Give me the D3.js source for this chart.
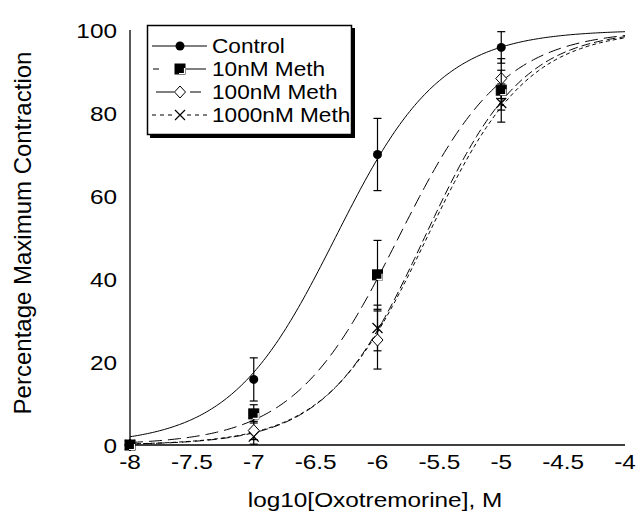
<!DOCTYPE html>
<html>
<head>
<meta charset="utf-8">
<script src="https://cdn.jsdelivr.net/npm/d3@7"></script>
<style>
body{margin:0;background:#fff;}
text{font-family:"Liberation Sans",Arial,sans-serif;fill:#000;}
</style>
</head>
<body>
<div id="chart"></div>
<script>
// data
let doses = [-8, -7, -6, -5];
let seriesNames = ["Control", "10nM Meth", "100nM Meth", "1000nM Meth"];
let meanControl = [0, 15.8, 70, 95.8];
let semControl = [0, 5.2, 8.7, 3.8];
let mean10 = [0, 7.5, 41, 85.5];
let sem10 = [0, 2.2, 8.3, 4.8];
let mean100 = [0, 3.5, 25.3, 88.3];
let sem100 = [0, 2.2, 7, 4.8];
let mean1000 = [0, 2, 28.2, 82.4];
let sem1000 = [0, 1.8, 5.5, 4.6];
// fitted logistic curves: logEC50 and hill slope
let logEC50 = [-6.34, -5.83, -5.62, -5.6];
let hill = [1.02, 1.02, 1.1, 1.07];
let xTicks = [-8, -7.5, -7, -6.5, -6, -5.5, -5, -4.5, -4];
let yTicks = [0, 20, 40, 60, 80, 100];

let width = 636, height = 516;
let padLeft = 130, padRight = 625, padTop = 30, padBottom = 445;
let stretch = 1.16; // text in the picture is a bit wider than the font

let means = [meanControl, mean10, mean100, mean1000];
let sems = [semControl, sem10, sem100, sem1000];
let dashes = [null, "13,6", "9,4", "4,3"];
let markers = ["circle", "square", "diamond", "cross"];

let svg = d3.select("#chart").append("svg")
  .attr("width", width).attr("height", height);

let x = d3.scaleLinear().domain([-8, -4]).range([padLeft, padRight]);
let y = d3.scaleLinear().domain([0, 100]).range([padBottom, padTop]);

function label(g, str, tx, ty, size, anchor){
  return g.append("text")
    .attr("transform", "translate(" + tx + "," + ty + ") scale(" + stretch + ",1)")
    .attr("font-size", size).attr("text-anchor", anchor || "start")
    .text(str);
}

// axes
svg.append("line").attr("x1", padLeft).attr("x2", padLeft).attr("y1", padTop).attr("y2", padBottom)
  .attr("stroke", "#000").attr("stroke-width", 1.3);
svg.append("line").attr("x1", padLeft).attr("x2", padRight).attr("y1", padBottom).attr("y2", padBottom)
  .attr("stroke", "#000").attr("stroke-width", 1.3);

xTicks.forEach(d => label(svg, d, x(d), padBottom + 24, 21, "middle"));
yTicks.forEach(d => label(svg, d, padLeft - 13, y(d) + 7.5, 21, "end"));

label(svg, "log10[Oxotremorine], M", 375, 507, 21, "middle");
svg.append("text").attr("transform", "translate(31,233) rotate(-90)")
  .attr("text-anchor", "middle").attr("font-size", 24)
  .text("Percentage Maximum Contraction");

// curves
let line = d3.line().x(d => x(d[0])).y(d => y(d[1]));
let xs = d3.range(-8, -3.999, 0.02);
seriesNames.forEach(function(name, i){
  let pts = xs.map(v => [v, 100 / (1 + Math.pow(10, (logEC50[i] - v) * hill[i]))]);
  svg.append("path").attr("d", line(pts))
    .attr("fill", "none").attr("stroke", "#000").attr("stroke-width", 1)
    .attr("stroke-dasharray", dashes[i]);
});

function drawMarker(g, type, cx, cy){
  if(type === "circle"){
    g.append("circle").attr("cx", cx).attr("cy", cy).attr("r", 4.5).attr("fill", "#000");
  } else if(type === "square"){
    g.append("rect").attr("x", cx - 5).attr("y", cy - 5).attr("width", 10).attr("height", 10)
      .attr("fill", "#000").attr("stroke", "#000");
    g.append("path").attr("d", "M" + (cx + 4.5) + "," + (cy - 1) + "V" + (cy + 4.5) + "H" + (cx - 1))
      .attr("fill", "none").attr("stroke", "#fff").attr("stroke-width", 1.2);
  } else if(type === "diamond"){
    g.append("path").attr("d", "M" + cx + "," + (cy - 6) + "L" + (cx + 5.5) + "," + cy + "L" + cx + "," + (cy + 6) + "L" + (cx - 5.5) + "," + cy + "Z")
      .attr("fill", "#fff").attr("stroke", "#000").attr("stroke-width", 1);
  } else {
    g.append("path").attr("d", "M" + (cx - 5) + "," + (cy - 5) + "L" + (cx + 5) + "," + (cy + 5) + "M" + (cx + 5) + "," + (cy - 5) + "L" + (cx - 5) + "," + (cy + 5))
      .attr("stroke", "#000").attr("stroke-width", 1.2);
  }
}

// error bars and points
let order = [3, 2, 0, 1];
order.forEach(function(i){
  let g = svg.append("g");
  doses.forEach(function(d, j){
    let m = means[i][j], s = sems[i][j];
    if(s > 0){
      g.append("line").attr("x1", x(d)).attr("x2", x(d)).attr("y1", y(m + s)).attr("y2", y(m - s))
        .attr("stroke", "#000").attr("stroke-width", 1.2);
      [m + s, m - s].forEach(function(v){
        g.append("line").attr("x1", x(d) - 4).attr("x2", x(d) + 4).attr("y1", y(v)).attr("y2", y(v))
          .attr("stroke", "#000").attr("stroke-width", 1.2);
      });
    }
    drawMarker(g, markers[i], x(d), y(m));
  });
});

// legend
let lg = svg.append("g");
lg.append("rect").attr("x", 150).attr("y", 28).attr("width", 205).attr("height", 110).attr("fill", "#000");
lg.append("rect").attr("x", 147.5).attr("y", 25.5).attr("width", 204).attr("height", 109)
  .attr("fill", "#fff").attr("stroke", "#000").attr("stroke-width", 1.5);
let legendDash = [null, "6,4,22,100", "17,100", "4,3"];
seriesNames.forEach(function(name, i){
  let ly = 46 + i * 23;
  if(i === 1){
    lg.append("line").attr("x1", 153).attr("x2", 159).attr("y1", ly).attr("y2", ly).attr("stroke", "#000");
    lg.append("line").attr("x1", 186).attr("x2", 206).attr("y1", ly).attr("y2", ly).attr("stroke", "#000");
  } else if(i === 2){
    lg.append("line").attr("x1", 156).attr("x2", 174).attr("y1", ly).attr("y2", ly).attr("stroke", "#000");
    lg.append("line").attr("x1", 190).attr("x2", 201).attr("y1", ly).attr("y2", ly).attr("stroke", "#000");
  } else if(i === 3){
    lg.append("line").attr("x1", 152).attr("x2", 174).attr("y1", ly).attr("y2", ly)
      .attr("stroke", "#000").attr("stroke-dasharray", "4,4");
    lg.append("line").attr("x1", 187).attr("x2", 208).attr("y1", ly).attr("y2", ly)
      .attr("stroke", "#000").attr("stroke-dasharray", "4,4");
  } else {
    lg.append("line").attr("x1", 152).attr("x2", 207).attr("y1", ly).attr("y2", ly).attr("stroke", "#000");
  }
  drawMarker(lg, markers[i], 180, ly);
  label(lg, name, 212, ly + 7, 19.5, "start");
});
</script>
</body>
</html>
